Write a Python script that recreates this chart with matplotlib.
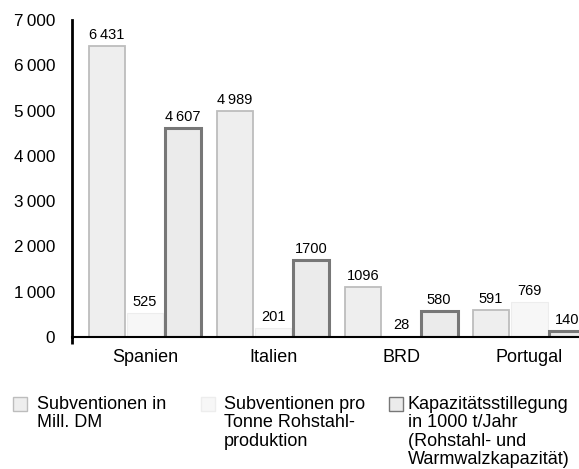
import matplotlib.pyplot as plt
import numpy as np
from matplotlib.patches import Rectangle

countries = ["Spanien", "Italien", "BRD", "Portugal"]
subv_mill_dm = [6431, 4989, 1096, 591]
subv_pro_tonne = [525, 201, 28, 769]
kapazitaet = [4607, 1700, 580, 140]

series_labels = [
    "Subventionen in\nMill. DM",
    "Subventionen pro\nTonne Rohstahl-\nproduktion",
    "Kapazitätsstillegung\nin 1000 t/Jahr\n(Rohstahl- und\nWarmwalzkapazität)",
]

yticks = [0, 1000, 2000, 3000, 4000, 5000, 6000, 7000]


def fmt_value(v):
    # the big ones are printed with a thin space
    if v >= 4000:
        return f"{v // 1000}\u2009{v % 1000:03d}"
    return str(v)


plt.rcParams["font.family"] = ["Liberation Sans", "DejaVu Sans"]

fig = plt.figure(figsize=(5.79, 4.69), dpi=100)
ax = fig.add_axes([0.1244, 0.2815, 0.8756, 0.676])

faces = ["#eeeeee", "#f7f7f7", "#ebebeb"]
edges = ["#bdbdbd", "#ededed", "#777777"]
lws = [1.3, 0.8, 2.2]

x = np.arange(len(countries))
w = 0.297
for j, vals in enumerate([subv_mill_dm, subv_pro_tonne, kapazitaet]):
    pos = x + (j - 1) * w
    bars = ax.bar(pos, vals, width=w * 0.97, color=faces[j], edgecolor=edges[j],
                  linewidth=lws[j])
    for b, v in zip(bars, vals):
        ax.text(b.get_x() + b.get_width() / 2, v + 90, fmt_value(v),
                ha="center", va="bottom", fontsize=10.5)

ax.set_xlim(-0.57, 3.39)
ax.set_ylim(0, 7000)
ax.set_yticks(yticks)
ax.set_yticklabels([f"{t // 1000}\u2009000" if t else "0" for t in yticks], fontsize=12.3)
ax.set_yticks([0], minor=True)
ax.tick_params(axis="y", which="major", length=0, pad=12)
ax.tick_params(axis="y", which="minor", length=7, direction="out", width=1.5)
ax.set_xticks(x)
ax.set_xticklabels(countries, fontsize=13)
ax.set_xticks([-0.57], minor=True)
ax.tick_params(axis="x", which="major", length=0, pad=9)
ax.tick_params(axis="x", which="minor", length=5, direction="out", width=2)

for s in ["top", "right"]:
    ax.spines[s].set_visible(False)
ax.spines["left"].set_linewidth(2)
ax.spines["bottom"].set_linewidth(1.5)

# legend, placed by hand
H = 469.0
W = 579.0
legend_x = [13, 201, 389]
text_x = [37, 224, 408]
for j in range(3):
    fig.patches.append(Rectangle((legend_x[j] / W, 1 - 411 / H), 14 / W, 14 / H,
                                 transform=fig.transFigure, facecolor=faces[j],
                                 edgecolor=edges[j], linewidth=1.0))
    fig.text(text_x[j] / W, 1 - 396 / H, series_labels[j], ha="left", va="top",
             fontsize=13, linespacing=1.1)

fig.savefig("out.png", dpi=100)
